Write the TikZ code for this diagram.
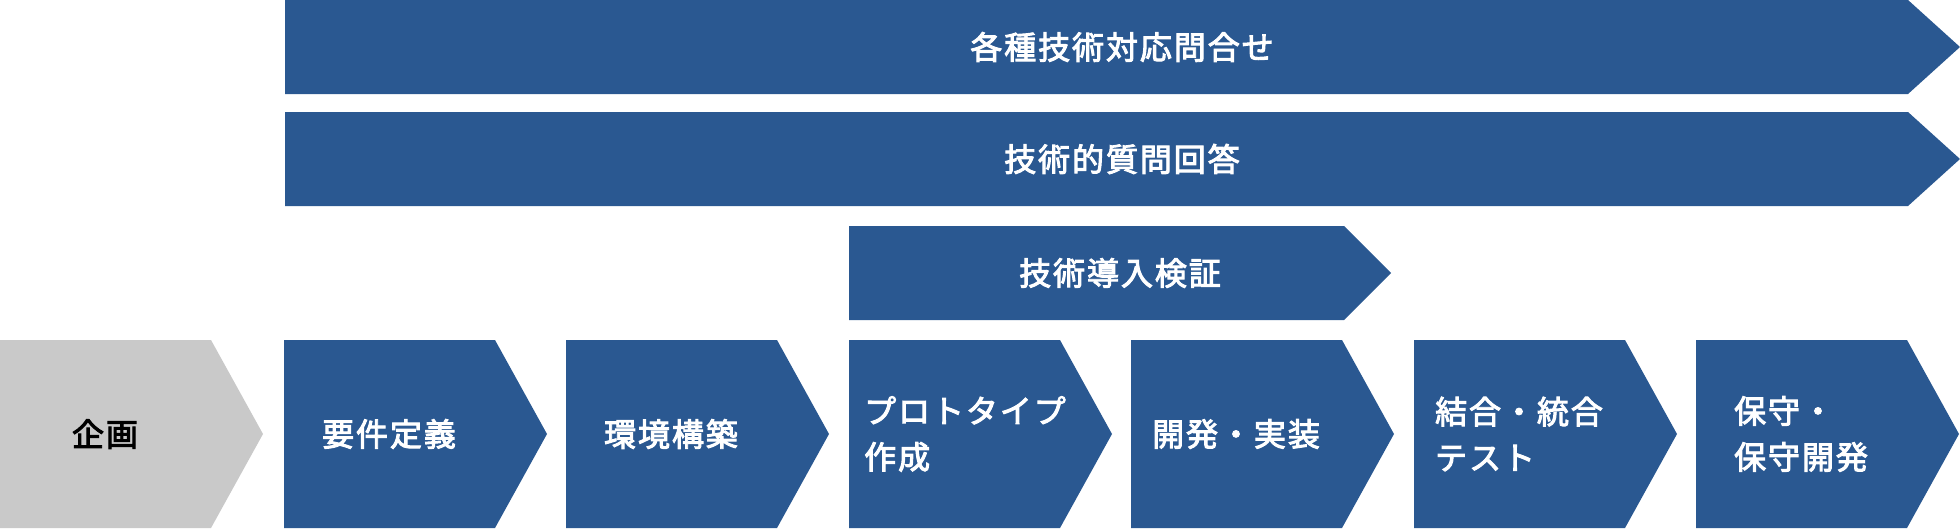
\documentclass[tikz,border=0pt]{standalone}
\usepackage{fontspec}
\setmainfont{Noto Sans CJK JP}
\newfontfamily\lblfont{Noto Sans CJK JP}[FakeBold=3,LetterSpace=6]
\definecolor{barblue}{HTML}{2A5891}
\definecolor{stepgray}{HTML}{C9C9C9}
\begin{document}
\begin{tikzpicture}[x=1pt,y=-1pt,
  lbl/.style={text=white,font=\lblfont\fontsize{32}{46}\selectfont,align=left,inner sep=0pt},
  graylbl/.style={lbl,text=black}]
\fill[white] (0,0) rectangle (1960,530);
\useasboundingbox (0,0) rectangle (1960,530);
% long bars
\fill[barblue] (285,0) -- (1908,0) -- (1960,47) -- (1908,94) -- (285,94) -- cycle;
\fill[barblue] (285,112) -- (1908,112) -- (1960,159) -- (1908,206) -- (285,206) -- cycle;
\fill[barblue] (849,226) -- (1344,226) -- (1391,273) -- (1344,320) -- (849,320) -- cycle;
\node[lbl] (bar1) at (1122,47) {各種技術対応問合せ};
\node[lbl] (bar2) at (1122,159) {技術的質問回答};
\node[lbl] (bar3) at (1120,273) {技術導入検証};
% process steps
\fill[stepgray] (0,340) -- (211,340) -- (263,434) -- (211,528) -- (0,528) -- cycle;
\foreach \L in {284,566,849,1131,1414,1696}{
  \fill[barblue] (\L,340) -- ({\L+211},340) -- ({\L+263},434) -- ({\L+211},528) -- (\L,528) -- cycle;
}
\node[graylbl] (s0) at (105,434) {企画};
\node[lbl] (s1) at (389,434) {要件定義};
\node[lbl] (s2) at (671,434) {環境構築};
\node[lbl] (s3) at (965,434) {プロトタイプ\\作成};
\node[lbl] (s4) at (1236,434) {開発・実装};
\node[lbl] (s5) at (1519,434) {結合・統合\\テスト};
\node[lbl] (s6) at (1801,434) {保守・\\保守開発};
\end{tikzpicture}
\end{document}
